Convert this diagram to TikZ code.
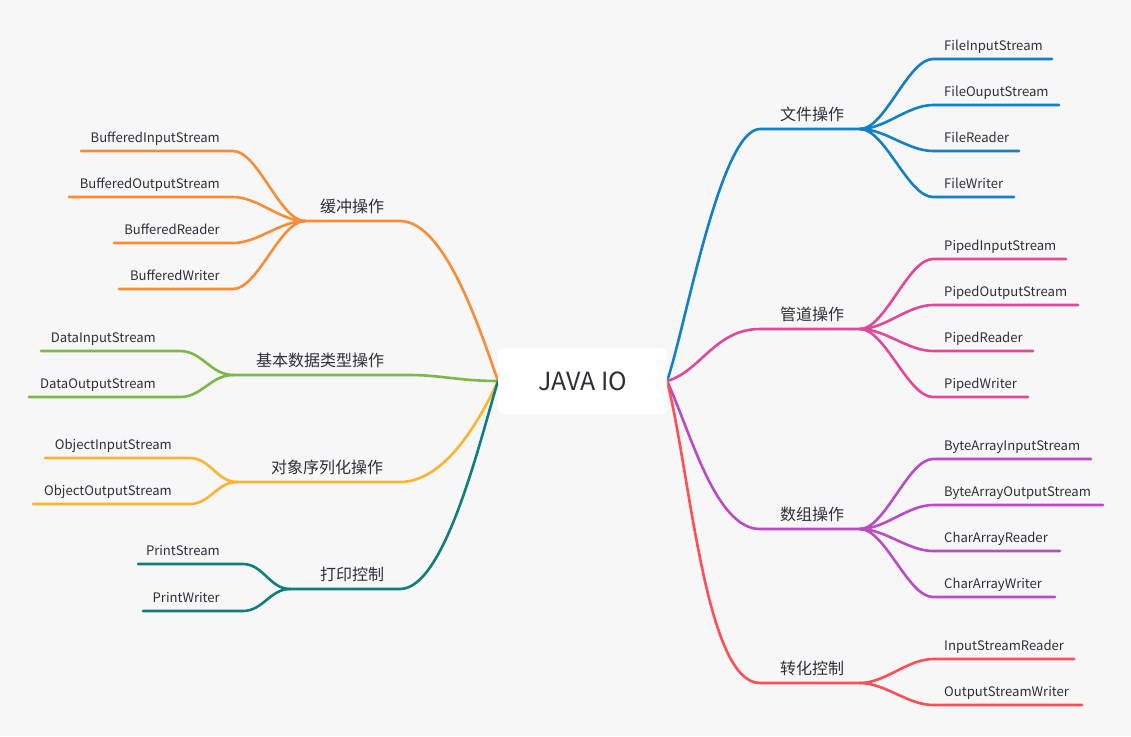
\documentclass[tikz,border=0pt]{standalone}
\usepackage{fontspec}
\setmainfont{Noto Sans CJK SC}
\usetikzlibrary{calc, positioning}
\definecolor{bg}{HTML}{F7F7F7}
\definecolor{ink}{HTML}{2E2E3A}
\definecolor{cFile}{HTML}{137FC6}
\definecolor{cPipe}{HTML}{E1489A}
\definecolor{cArray}{HTML}{BA4BC5}
\definecolor{cConv}{HTML}{FF4E56}
\definecolor{cBuf}{HTML}{FA8C35}
\definecolor{cData}{HTML}{7BB84A}
\definecolor{cObj}{HTML}{F9B52E}
\definecolor{cPrint}{HTML}{0F7E7D}

\begin{document}
\begin{tikzpicture}[x=1pt, y=-1pt,
    Root/.style={fill=white, rounded corners=6pt, minimum width=169pt,
                minimum height=66pt, inner sep=0pt, text=ink,
                font=\fontsize{25}{25}\selectfont},
    Topic/.style={text=ink, inner sep=0pt, anchor=base,
                font=\fontsize{16}{16}\selectfont},
    Leaf/.style={text=ink, inner sep=0pt, font=\fontsize{13.1}{13.1}\selectfont},
    Branch/.style={line width=2.6pt, line cap=round},
    Fan/.style={to path={.. controls ($(\tikztostart)+(#1,0)$)
                and ($(\tikztotarget)-(#1,0)$) .. (\tikztotarget)}},
  ]

\fill[bg] (0,0) rectangle (1131,736);
\useasboundingbox (0,0) rectangle (1131,736);

\coordinate (javaR) at (667,381);
\coordinate (javaL) at (498,381);

% right side
\coordinate (file-a) at (760,129);
\coordinate (file-b) at (860,129);
\node[Topic] (file) at (812,120) {文件操作};
\draw[Branch, cFile] (javaR) .. controls (685,330) and (720,129) .. (file-a) -- (file-b);
\foreach \y/\e/\t [count=\i] in {59/1052/FileInputStream, 105/1059/FileOuputStream,
    151/1019/FileReader, 197/1014/FileWriter}{
  \coordinate (file-\i-a) at (933,\y);
  \coordinate (file-\i-b) at (\e,\y);
  \node[Leaf, anchor=base west] (file-\i) at (944,\y-8.5) {\t};
  \draw[Branch, cFile] (file-b) to[Fan=25] (file-\i-a) -- (file-\i-b);
}

\coordinate (pipe-a) at (760,329);
\coordinate (pipe-b) at (860,329);
\node[Topic] (pipe) at (812,320) {管道操作};
\draw[Branch, cPipe] (javaR) .. controls (700,372) and (715,329) .. (pipe-a) -- (pipe-b);
\foreach \y/\e/\t [count=\i] in {259/1066/PipedInputStream, 305/1078/PipedOutputStream,
    351/1033/PipedReader, 397/1028/PipedWriter}{
  \coordinate (pipe-\i-a) at (933,\y);
  \coordinate (pipe-\i-b) at (\e,\y);
  \node[Leaf, anchor=base west] (pipe-\i) at (944,\y-8.5) {\t};
  \draw[Branch, cPipe] (pipe-b) to[Fan=25] (pipe-\i-a) -- (pipe-\i-b);
}

\coordinate (array-a) at (760,529);
\coordinate (array-b) at (860,529);
\node[Topic] (array) at (812,520) {数组操作};
\draw[Branch, cArray] (javaR) .. controls (690,430) and (715,529) .. (array-a) -- (array-b);
\foreach \y/\e/\t [count=\i] in {459/1091/ByteArrayInputStream, 505/1103/ByteArrayOutputStream,
    551/1060/CharArrayReader, 597/1055/CharArrayWriter}{
  \coordinate (array-\i-a) at (933,\y);
  \coordinate (array-\i-b) at (\e,\y);
  \node[Leaf, anchor=base west] (array-\i) at (944,\y-8.5) {\t};
  \draw[Branch, cArray] (array-b) to[Fan=25] (array-\i-a) -- (array-\i-b);
}

\coordinate (conv-a) at (760,683);
\coordinate (conv-b) at (860,683);
\node[Topic] (conv) at (812,674) {转化控制};
\draw[Branch, cConv] (javaR) .. controls (690,470) and (705,683) .. (conv-a) -- (conv-b);
\foreach \y/\e/\t [count=\i] in {659/1074/InputStreamReader, 705/1082/OutputStreamWriter}{
  \coordinate (conv-\i-a) at (933,\y);
  \coordinate (conv-\i-b) at (\e,\y);
  \node[Leaf, anchor=base west] (conv-\i) at (944,\y-8.5) {\t};
  \draw[Branch, cConv] (conv-b) to[Fan=25] (conv-\i-a) -- (conv-\i-b);
}

% left side
\coordinate (buf-a) at (400,221);
\coordinate (buf-b) at (305,221);
\node[Topic] (buf) at (352,212) {缓冲操作};
\draw[Branch, cBuf] (javaL) .. controls (480,330) and (445,221) .. (buf-a) -- (buf-b);
\foreach \y/\e/\t [count=\i] in {151/81/BufferedInputStream, 197/69/BufferedOutputStream,
    243/114/BufferedReader, 289/119/BufferedWriter}{
  \coordinate (buf-\i-a) at (233,\y);
  \coordinate (buf-\i-b) at (\e,\y);
  \node[Leaf, anchor=base east] (buf-\i) at (220,\y-8.5) {\t};
  \draw[Branch, cBuf] (buf-b) to[Fan=-25] (buf-\i-a) -- (buf-\i-b);
}

\coordinate (data-a) at (410,375);
\coordinate (data-b) at (233,375);
\node[Topic] (data) at (320,366) {基本数据类型操作};
\draw[Branch, cData] (javaL) .. controls (460,381) and (440,375) .. (data-a) -- (data-b);
\foreach \y/\e/\t [count=\i] in {351/41/DataInputStream, 397/29/DataOutputStream}{
  \coordinate (data-\i-a) at (180,\y);
  \coordinate (data-\i-b) at (\e,\y);
  \node[Leaf, anchor=base east] (data-\i) at (156,\y-8.5) {\t};
  \draw[Branch, cData] (data-b) to[Fan=-22] (data-\i-a) -- (data-\i-b);
}

\coordinate (obj-a) at (400,482);
\coordinate (obj-b) at (237,482);
\node[Topic] (obj) at (327,473) {对象序列化操作};
\draw[Branch, cObj] (javaL) .. controls (480,420) and (445,482) .. (obj-a) -- (obj-b);
\foreach \y/\e/\t [count=\i] in {458/45/ObjectInputStream, 504/33/ObjectOutputStream}{
  \coordinate (obj-\i-a) at (190,\y);
  \coordinate (obj-\i-b) at (\e,\y);
  \node[Leaf, anchor=base east] (obj-\i) at (172,\y-8.5) {\t};
  \draw[Branch, cObj] (obj-b) to[Fan=-20] (obj-\i-a) -- (obj-\i-b);
}

\coordinate (print-a) at (400,589);
\coordinate (print-b) at (290,589);
\node[Topic] (print) at (352,580) {打印控制};
\draw[Branch, cPrint] (javaL) .. controls (480,440) and (445,589) .. (print-a) -- (print-b);
\foreach \y/\e/\t [count=\i] in {564/138/PrintStream, 611/143/PrintWriter}{
  \coordinate (print-\i-a) at (243,\y);
  \coordinate (print-\i-b) at (\e,\y);
  \node[Leaf, anchor=base east] (print-\i) at (220,\y-8.5) {\t};
  \draw[Branch, cPrint] (print-b) to[Fan=-20] (print-\i-a) -- (print-\i-b);
}

% root
\node[Root] (java) at (582.5,381) {JAVA IO};
\end{tikzpicture}
\end{document}
